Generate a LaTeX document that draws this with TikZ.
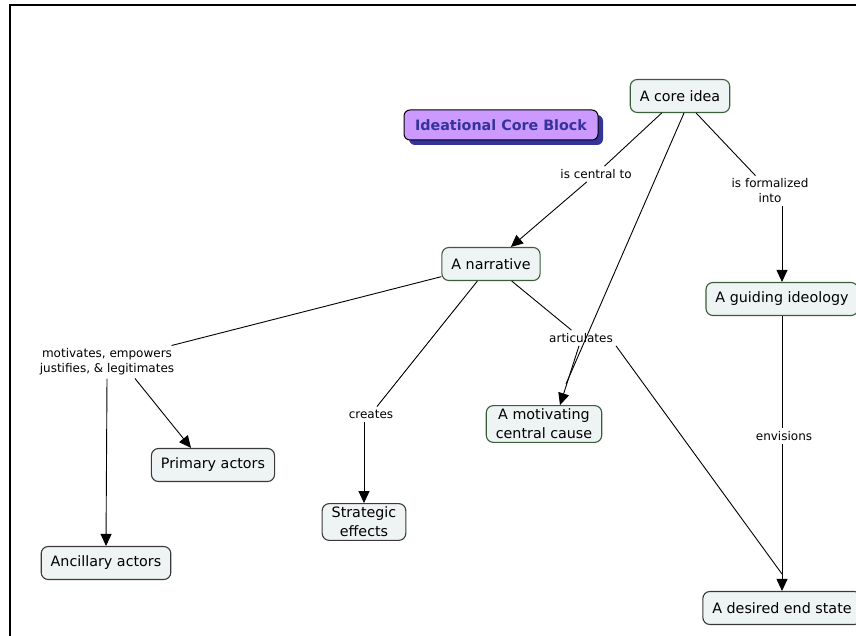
\documentclass[tikz,border=0pt]{standalone}
\usepackage{fontspec}
\setmainfont{DejaVu Sans}
\usetikzlibrary{arrows.meta,shadows}
\definecolor{cfill}{HTML}{EEF3F4}
\definecolor{cgreen}{HTML}{3A5E3A}
\definecolor{cgray}{HTML}{3A3A3A}
\definecolor{blockfill}{HTML}{CC99FF}
\definecolor{blockblue}{HTML}{333399}
\tikzset{
  concept/.style={draw=cgreen, fill=cfill, line width=1.1pt, rounded corners=7pt,
    minimum height=33pt, inner xsep=9.5pt, align=center, font=\fontsize{14.3}{19}\selectfont},
  conceptg/.style={concept, draw=cgray},
  linkph/.style={inner sep=3pt, align=center, font=\fontsize{12}{15}\selectfont},
  conn/.style={line width=0.9pt, black},
  arr/.style={conn, -{Triangle[length=12pt,width=11pt]}},
}
\begin{document}
\begin{tikzpicture}[x=1pt,y=-1pt]
\useasboundingbox (0,0) rectangle (856,636);
\draw[line width=2pt] (10,636) -- (10,5) -- (856,5);

% concepts
\node[concept] (core) at (680,96) {A core idea};
\node[draw=black, fill=blockfill, text=blockblue, line width=1pt, rounded corners=6pt,
  minimum height=30pt, minimum width=194pt, font=\fontsize{14.3}{17}\selectfont\bfseries,
  drop shadow={shadow xshift=5pt, shadow yshift=-5pt, fill=blockblue, opacity=1}] (block) at (501,125) {Ideational Core Block};
\node[concept] (narr) at (491,264) {A narrative};
\node[concept] (guide) at (782,299) {A guiding ideology};
\node[conceptg] (desired) at (782,608) {A desired end state};
\node[conceptg] (prim) at (213,465) {Primary actors};
\node[conceptg] (anc) at (106,563) {Ancillary actors};
\node[conceptg] (strat) at (364,522) {Strategic\\effects};
\node[concept] (cause) at (544,424) {A motivating\\central cause};

% linking phrases
\node[linkph] (central) at (596,174) {is central to};
\node[linkph] (formal) at (770,191) {is formalized\\into};
\node[linkph] (motiv) at (107,362) {motivates, empowers\\justifies, \& legitimates};
\node[linkph] (creates) at (371,414) {creates};
\node[linkph] (artic) at (581,338) {articulates};
\node[linkph] (envis) at (784,436) {envisions};

\coordinate (mcause) at (566,384);
\coordinate (mdes) at (782,574);

% connectors
\draw[conn] (core) -- (central);
\draw[arr] (central) -- (narr);
\draw[conn] (core) -- (formal);
\draw[arr] (formal.south -| guide.north) -- (guide.north);
\draw[conn] (core.south) ++(4,0) -- (mcause);
\draw[conn] (narr) -- (motiv);
\draw[arr] (motiv.south) ++(28,0) -- ([xshift=-22pt]prim.north);
\draw[arr] (motiv.south) -- (anc.north);
\draw[conn] (narr) -- (creates);
\draw[arr] (creates.south -| strat.north) -- (strat.north);
\draw[conn] (narr) -- (artic);
\draw[arr] ([xshift=-2pt]artic.south) -- ([xshift=16pt]cause.north);
\draw[conn] (artic.south east) -- (mdes);
\draw[conn] (guide.south) -- (envis.north -| guide.south);
\draw[arr] (envis.south -| desired.north) -- (desired.north);
\end{tikzpicture}
\end{document}
